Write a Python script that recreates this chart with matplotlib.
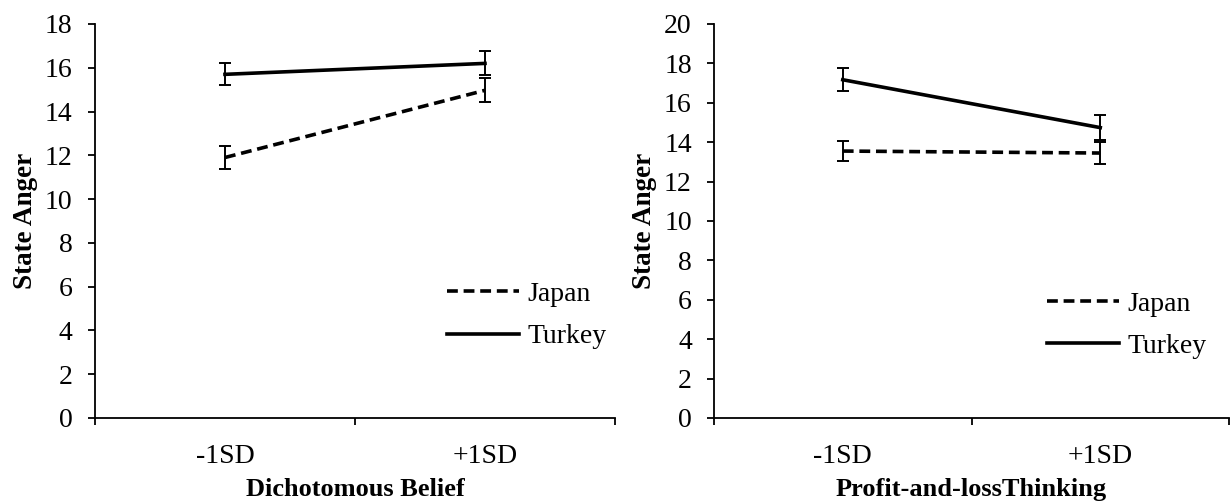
import numpy as np
import matplotlib.pyplot as plt
from matplotlib.ticker import FixedLocator

plt.rcParams.update({'font.family': 'Liberation Serif', 'font.size': 20})

groups = ['-1SD', '+1SD']

# left panel: dichotomous belief
japan_db = [11.9, 14.97]
japan_db_err = [0.52, 0.55]
turkey_db = [15.7, 16.2]
turkey_db_err = [0.5, 0.55]

# right panel: profit-and-loss thinking
japan_pl = [13.55, 13.45]
japan_pl_err = [0.5, 0.58]
turkey_pl = [17.17, 14.74]
turkey_pl_err = [0.58, 0.63]

fig = plt.figure(figsize=(12.3, 5.01), dpi=100)
ax1 = fig.add_axes([0.0772, 0.1657, 0.4228, 0.7864])
ax2 = fig.add_axes([0.5805, 0.1657, 0.4187, 0.7864])

x = np.arange(len(groups))

def panel(ax, jap, jap_err, tur, tur_err, ymax, xlabel, leg_xy):
    ax.plot(x, jap, color='black', lw=2.6, ls=(0, (3.0, 1.6)), label='Japan')
    ax.plot(x, tur, color='black', lw=2.6, ls='-', label='Turkey')
    ax.errorbar(x, jap, yerr=jap_err, fmt='none', ecolor='black', elinewidth=1.4,
                capsize=4, capthick=1.4)
    ax.errorbar(x, tur, yerr=tur_err, fmt='none', ecolor='black', elinewidth=1.4,
                capsize=4, capthick=1.4)

    ax.set_xlim(-0.5, 1.5)
    ax.set_ylim(0, ymax)
    ax.set_yticks(np.arange(0, ymax + 1, 2))
    ax.set_xticks(x)
    ax.set_xticklabels(groups)
    ax.xaxis.set_minor_locator(FixedLocator([-0.5, 0.5, 1.5]))
    ax.tick_params(axis='x', which='major', length=0, pad=19, labelsize=20)
    ax.tick_params(axis='x', which='minor', length=5, width=1.3, direction='out')
    ax.tick_params(axis='y', length=5, width=1.3, pad=11, labelsize=20)

    for s in ['top', 'right']:
        ax.spines[s].set_visible(False)
    for s in ['left', 'bottom']:
        ax.spines[s].set_linewidth(1.3)

    ax.set_xlabel(xlabel, fontweight='bold', fontsize=19)
    ax.xaxis.set_label_coords(0.5, -0.152)
    ax.set_ylabel('State Anger', fontweight='bold', fontsize=19.5)
    ax.yaxis.set_label_coords(-0.11, 0.5)

    ax.legend(loc='center left', bbox_to_anchor=leg_xy, frameon=False,
              borderpad=0, borderaxespad=0, handlelength=2.6,
              handletextpad=0.3, labelspacing=0.6, fontsize=20)

panel(ax1, japan_db, japan_db_err, turkey_db, turkey_db_err, 18,
      'Dichotomous Belief', (0.677, 0.26))
panel(ax2, japan_pl, japan_pl_err, turkey_pl, turkey_pl_err, 20,
      'Profit-and-lossThinking', (0.647, 0.236))

plt.savefig('out.png', dpi=100)
